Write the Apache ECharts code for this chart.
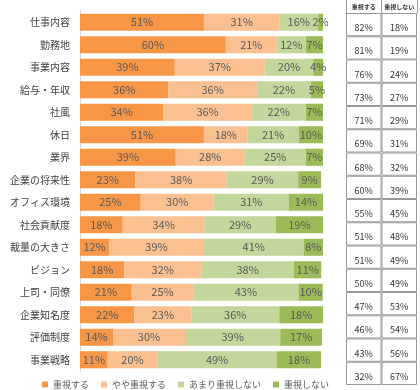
<!DOCTYPE html>
<html><head><meta charset="utf-8">
<script src="https://cdn.jsdelivr.net/npm/echarts@6/dist/echarts.min.js"></script>
<style>html,body{margin:0;padding:0;background:#fff}#c{width:420px;height:390px}</style>
</head><body><div id="c"></div>
<script>
const categories = ['仕事内容','勤務地','事業内容','給与・年収','社風','休日','業界','企業の将来性','オフィス環境','社会貢献度','裁量の大きさ','ビジョン','上司・同僚','企業知名度','評価制度','事業戦略'];
const seriesNames = ['重視する','やや重視する','あまり重視しない','重視しない'];
const juushi     = [51,60,39,36.4,34.3,51,39.4,22.8,25,17.6,12,18.2,21.3,22.4,13.6,11.4];
const yaya       = [31,21,37,36.4,36.4,18,28.4,37.6,30,33.6,39,31.7,25.3,23.4,29.6,20.4];
const amari      = [16,12,20,22.2,22.2,21,25.1,29.4,31,29.4,41,38.2,43.3,36.2,39.2,49.2];
const shinai     = [2,7,4,5.0,7.1,10,7.1,9.4,14,19.4,8,11.2,10.0,18.0,17.2,18.2];
const tableHeaders = ['重視する','重視しない'];
const tableJuushi = [82,81,76,73,71,69,68,60,55,51,51,50,47,46,43,32];
const tableShinai = [18,19,24,27,29,31,32,39,45,48,49,49,53,54,56,67];
const colors = ['#F79646','#FAC090','#C3D69B','#9BBB59'];

const font = '"Noto Sans CJK JP", "Noto Sans", sans-serif';
const chart = echarts.init(document.getElementById('c'), null, {renderer:'canvas'});
const seriesData = [juushi, yaya, amari, shinai];
const barSeries = seriesNames.map((n,i)=>({
  name:n, type:'bar', stack:'s', xAxisIndex:0, yAxisIndex:0,
  data: seriesData[i], barCategoryGap:'24%',
  itemStyle:{color:colors[i]},
  label:{show:true, position:'inside', color:'#595959', fontSize:11, fontFamily:font,
    formatter:p=>Math.round(p.value)+'%'},
  emphasis:{disabled:true}
}));
// table cells: two unit-wide cells per row, with the values as their labels
const cellSeries = [tableJuushi, tableShinai].map((col,ci)=>({
  type:'bar', stack:'cells', xAxisIndex:1, yAxisIndex:1, barCategoryGap:0,
  data: col.map(v=>({value:1, pct:v})),
  itemStyle:{color:'#fff', borderColor:'#999', borderWidth:1},
  label:{show:true, position:'inside', offset:[0,3], fontSize:9, color:'#333', fontFamily:font,
    formatter:p=>p.data.pct+'%'},
  emphasis:{disabled:true}, silent:true
}));

chart.setOption({
  animation:false,
  textStyle:{fontFamily:font},
  legend:{top:380, left:37, padding:[0,5], itemWidth:6, itemHeight:6, itemGap:12, icon:'rect',
    textStyle:{fontSize:9, color:'#595959', fontFamily:font}, data:seriesNames},
  grid:[
    {left:80, width:243, top:11, height:360},
    {left:346, width:71, top:13, height:372}
  ],
  xAxis:[
    {type:'value', gridIndex:0, min:0, max:100, show:false},
    {type:'value', gridIndex:1, position:'top', min:0, max:2, interval:1,
      axisLine:{show:true, lineStyle:{color:'#999'}},
      axisTick:{show:true, length:13, lineStyle:{color:'#999'}},
      axisLabel:{show:false},
      splitLine:{show:false}},
    {type:'category', gridIndex:1, position:'top', data:tableHeaders,
      axisLine:{show:false}, axisTick:{show:false},
      axisLabel:{interval:0, fontSize:6, margin:3, color:'#333', fontWeight:'bold', fontFamily:font},
      splitLine:{show:false}}
  ],
  yAxis:[
    {type:'category', gridIndex:0, data:categories, inverse:true,
      axisLine:{show:true, lineStyle:{color:'#d9d9d9'}}, axisTick:{show:false},
      axisLabel:{fontSize:10, color:'#404040', margin:10, fontFamily:font}},
    {type:'category', gridIndex:1, data:categories, inverse:true,
      axisLine:{show:false}, axisTick:{show:false},
      axisLabel:{show:false}, splitLine:{show:false}}
  ],
  series:[...barSeries, ...cellSeries]
});
</script></body></html>
